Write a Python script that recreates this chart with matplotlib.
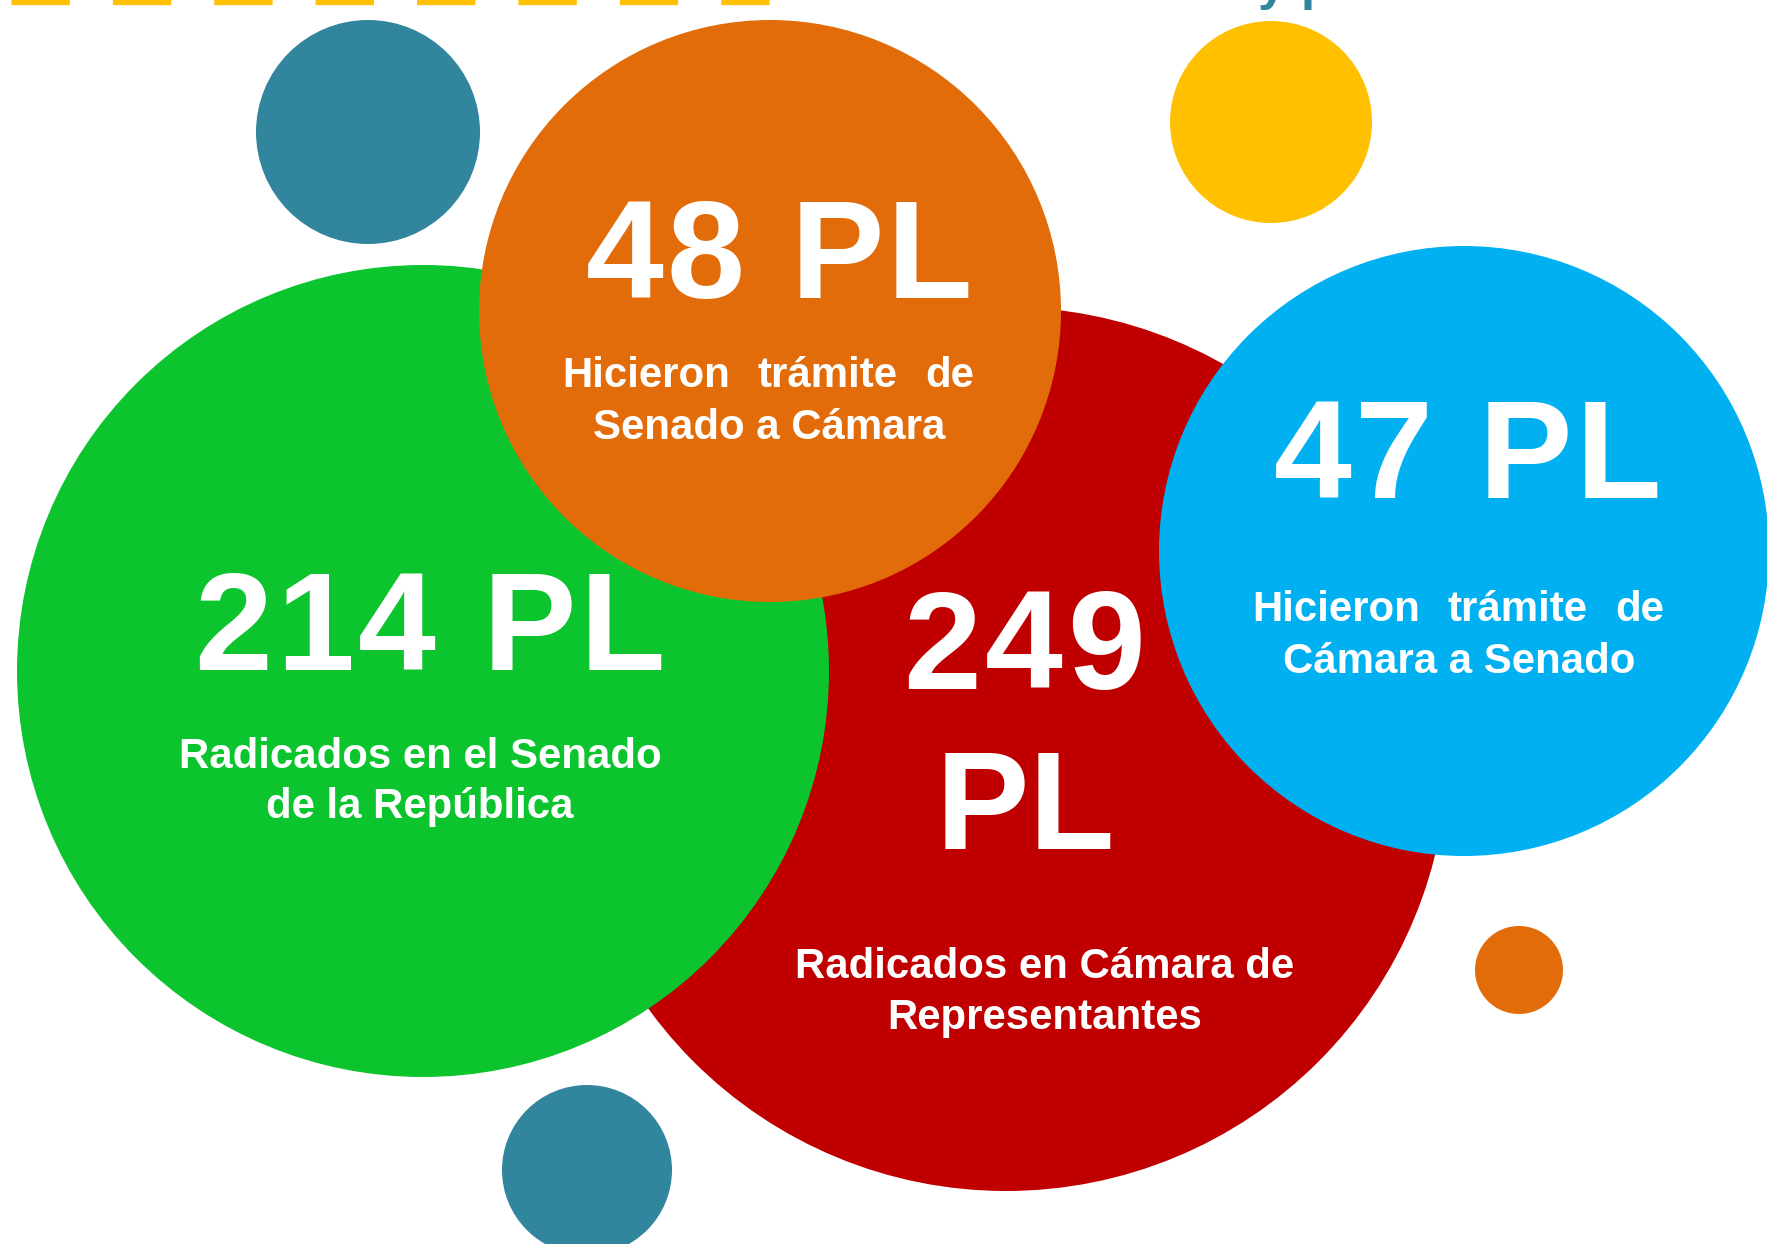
import matplotlib
matplotlib.use("Agg")
import matplotlib.pyplot as plt
from matplotlib.patches import Circle
from matplotlib import font_manager
from matplotlib.ft2font import FT2Font
try:
    from matplotlib.ft2font import LoadFlags
    NOHINT = LoadFlags.NO_HINTING
except ImportError:
    from matplotlib.ft2font import LOAD_NO_HINTING as NOHINT

# ---- data ----
category_lines = [["Radicados en Cámara de", "Representantes"],
                  ["Radicados en el Senado", "de la República"],
                  ["Hicieron trámite de", "Senado a Cámara"],
                  ["Hicieron trámite de", "Cámara a Senado"]]
values = [249, 214, 48, 47]
unit = "PL"
colors = ["#C00000", "#0CC42E", "#E36C0A", "#00B0F0"]

# ---- layout (pixels, y downwards) ----
centers = [(1006, 749), (423, 671), (770, 311), (1464, 551)]
radii = [442, 406, 291, 305]
num_center_x = [[1024, 1027], [430], [778], [1466]]
num_baselines = [[689, 849], [670], [298], [498]]
num_ink_width = [[232, 165], [462], [380], [381]]
NUM_CAP = 96.3
sub_center_x = [1045, 420, 769, 1459]
sub_baselines = [[978, 1029], [768, 818], [387, 439], [621, 673]]
sub_justify_width = [None, None, 407, 408]

deco_centers = [(368, 132), (1271, 122), (587, 1170), (1519, 970)]
deco_radii = [112, 101, 85, 44]
deco_colors = ["#31859C", "#FFC000", "#31859C", "#E36C0A"]

W, H = 1767, 1244
DPI = 100
SUB_PX = 42
FAMILY = "Liberation Sans"

plt.rcParams['lines.scale_dashes'] = False
fig = plt.figure(figsize=(W / DPI, H / DPI), dpi=DPI)
ax = fig.add_axes([0, 0, 1, 1])
ax.set_xlim(0, W)
ax.set_ylim(H, 0)
ax.set_aspect('equal')
ax.axis('off')

fpath = font_manager.findfont(font_manager.FontProperties(family=FAMILY, weight='bold'))
ft = FT2Font(fpath)


def glyph(c, px):
    ft.set_size(px * 72 / DPI, DPI)
    g = ft.load_char(ord(c), flags=NOHINT)
    return g.linearHoriAdvance / 65536.0, g.horiBearingX / 64.0, g.width / 64.0, g.height / 64.0


NUM_PX = 100.0 * NUM_CAP / glyph('H', 100.0)[3]


def layout(s, px, tracking):
    origins, mets, o = [], [], 0.0
    for c in s:
        m = glyph(c, px)
        origins.append(o)
        mets.append(m)
        o += m[0] + tracking
    ink_l = origins[0] + mets[0][1]
    ink_r = origins[-1] + mets[-1][1] + mets[-1][2]
    return origins, mets, ink_l, ink_r


def put(x_origin, y, s, px, ha='left'):
    ax.text(x_origin, y, s, ha=ha, va='baseline', color='white',
            fontsize=px * 72 / DPI, fontweight='bold', family=FAMILY, zorder=10)


def tracked_text(xc, y, s, px, ink_width):
    _, _, il, ir = layout(s, px, 0)
    tracking = (ink_width - (ir - il)) / max(len(s) - 1, 1)
    origins, mets, il, ir = layout(s, px, tracking)
    shift = xc - (il + ir) / 2
    for c, o in zip(s, origins):
        if c.strip():
            put(shift + o, y, c, px)


def justified(xc, width, y, s, px):
    words = s.split()
    wl = [layout(w, px, 0) for w in words]
    widths = [r - l for _, _, l, r in wl]
    gap = (width - sum(widths)) / (len(words) - 1)
    x = xc - width / 2
    for w, wd, (_, _, il, _) in zip(words, widths, wl):
        put(x - il, y, w, px)
        x += wd + gap


# decorative circles
for (cx, cy), r, c in zip(deco_centers, deco_radii, deco_colors):
    ax.add_patch(Circle((cx, cy), r, color=c, lw=0, zorder=1))

# main circles: red, green, orange, blue
for i, ((cx, cy), r, c) in enumerate(zip(centers, radii, colors)):
    ax.add_patch(Circle((cx, cy), r, color=c, lw=0, zorder=2 + i))

for i in range(4):
    nl = num_baselines[i]
    lines = [f"{values[i]} {unit}"] if len(nl) == 1 else [str(values[i]), unit]
    for txt, yb, xc, wd in zip(lines, nl, num_center_x[i], num_ink_width[i]):
        tracked_text(xc, yb, txt, NUM_PX, wd)
    for j, (txt, yb) in enumerate(zip(category_lines[i], sub_baselines[i])):
        if j == 0 and sub_justify_width[i]:
            justified(sub_center_x[i], sub_justify_width[i], yb, txt, SUB_PX)
        else:
            put(sub_center_x[i], yb, txt, SUB_PX, ha='center')

# top decoration: dashed yellow line and cut-off title
ax.plot([11, 769], [2, 2], color="#FFC000", lw=3.8, dashes=(42, 31),
        solid_capstyle='butt', dash_capstyle='butt', clip_on=False, zorder=5)
ax.text(1258, -1, "y p", ha='left', va='baseline', color="#31859C",
        fontsize=37, fontweight='bold', family=FAMILY, clip_on=False, zorder=5)

fig.savefig("out.png", dpi=DPI)
